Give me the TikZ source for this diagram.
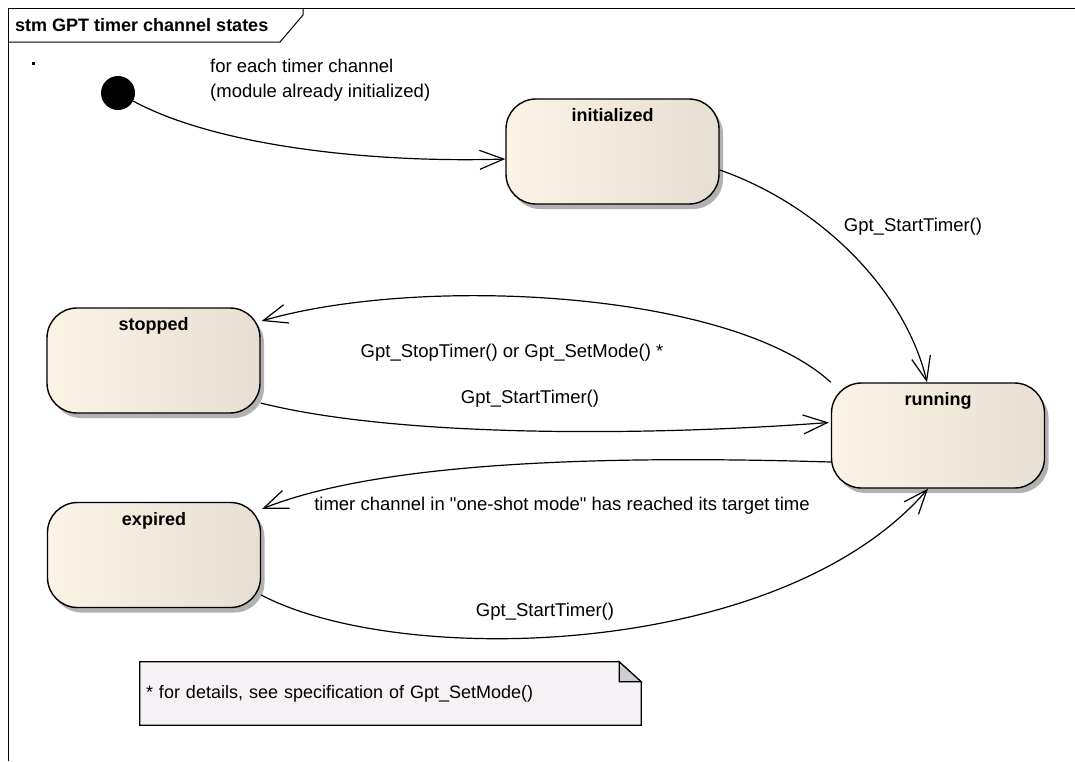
\documentclass[tikz,border=0pt]{standalone}
\usepackage{fontspec}
\setmainfont{Liberation Sans}[Ligatures=TeXOff]
\usetikzlibrary{arrows.meta,shadows,backgrounds}
\definecolor{stateL}{RGB}{251,243,229}
\definecolor{stateR}{RGB}{231,223,211}
\definecolor{noteFill}{RGB}{245,241,245}
\definecolor{foldFill}{RGB}{206,206,210}
\tikzset{
  txt/.style={font=\fontsize{18.5}{25}\selectfont, inner sep=0pt},
  boldtxt/.style={font=\fontsize{18}{22}\selectfont\bfseries, inner sep=0pt},
  statebox/.style={draw, line width=1.4pt, rounded corners=30pt, minimum width=213pt, minimum height=105pt,
     left color=stateL, right color=stateR,
     drop shadow={shadow xshift=4pt, shadow yshift=-5pt, fill=black!30, opacity=1}},
  statename/.style={label={[boldtxt, anchor=north, yshift=-10pt]north:#1}},
  trans/.style={line width=1.2pt, -{Straight Barb[length=24pt,width=19pt,line width=1.2pt]}},
  notebox/.style={minimum width=501pt, minimum height=63pt, inner sep=6pt, text width=489pt, align=left,
     font=\fontsize{18}{22}\selectfont},
}
\begin{document}
\begin{tikzpicture}[x=1pt,y=-1pt]
\useasboundingbox (0,0) rectangle (1075,761);
% frame
\draw[line width=1pt] (8,761) -- (8,8) -- (1075,8);
\node[boldtxt, anchor=west] (title) at (15,25) {stm GPT timer channel states};
\draw[line width=1pt] (8,42) -- (280,42) -- (303,15) -- (303,8);
\fill (32,62) rectangle (35,65);

% initial
\node[circle, fill=black, minimum size=34pt, inner sep=0pt] (init) at (118,93) {};

% states
\node[statebox, statename=initialized] (initialized) at (612.5,151.5) {};
\node[statebox, statename=stopped] (stopped) at (153.5,360.5) {};
\node[statebox, statename=running] (running) at (938,435.5) {};
\node[statebox, statename=expired] (expired) at (154,555) {};

% transitions
\draw[trans] (init.-28) .. controls (220,148) and (380,163) .. ([yshift=-7.5pt]initialized.west);
\node[txt, anchor=west, align=left] (lblinit) at (210,80.5) {for each timer channel\\(module already initialized)};

\draw[trans] ([yshift=-18.5pt]initialized.east) .. controls (820,205) and (905,290) .. ([xshift=-11pt]running.north);
\node[txt] (lblstart1) at (913,227) {Gpt\_StartTimer()};

\draw[trans] (running.north west) .. controls (730,290) and (420,275) .. ([xshift=1pt,yshift=39.5pt]stopped.east);
\node[txt] (lblstop) at (512,353) {Gpt\_StopTimer() or Gpt\_SetMode() *};

\draw[trans] ([yshift=-42.5pt]stopped.east) .. controls (400,438) and (650,436) .. ([xshift=-2pt,yshift=13pt]running.west);
\node[txt] (lblstart2) at (530,399) {Gpt\_StartTimer()};

\draw[trans] ([yshift=-26.5pt]running.west) .. controls (600,455) and (380,462) .. ([xshift=1pt,yshift=-7pt]expired.north east);
\node[txt] (lblexp) at (562,506) {timer channel in "one-shot mode" has reached its target time};

\draw[trans] ([yshift=-40pt]expired.east) .. controls (400,668) and (780,660) .. ([xshift=-10pt]running.south);
\node[txt] (lblstart3) at (545,612) {Gpt\_StartTimer()};

% note
\node[notebox] (note) at (390.5,693.5) {* for details, see specification of Gpt\_SetMode()};
\begin{scope}[on background layer]
\draw[line width=1.2pt, fill=noteFill] (note.north west) -- ([xshift=-22pt]note.north east) -- ([yshift=-20pt]note.north east) -- (note.south east) -- (note.south west) -- cycle;
\draw[line width=1.2pt, fill=foldFill] ([xshift=-22pt]note.north east) -- ([xshift=-22pt,yshift=-20pt]note.north east) -- ([yshift=-20pt]note.north east) -- cycle;
\end{scope}
\end{tikzpicture}
\end{document}
